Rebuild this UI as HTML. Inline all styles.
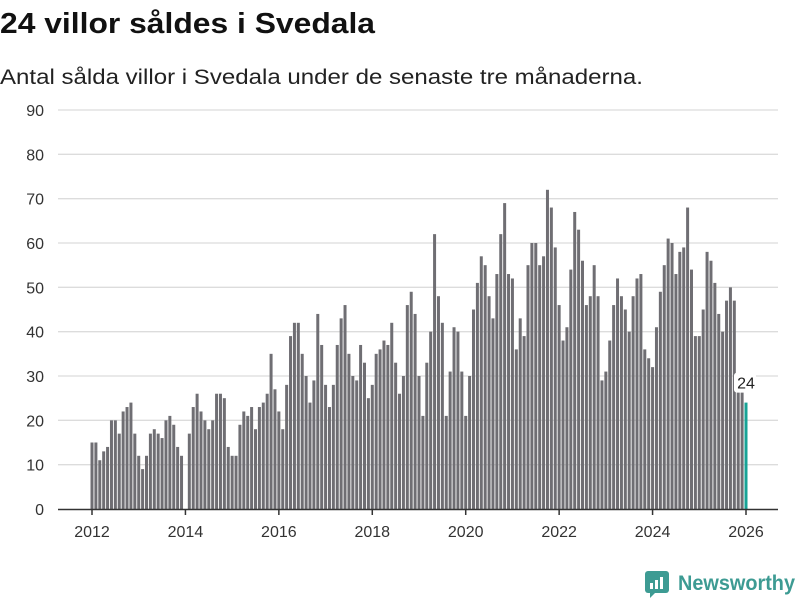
<!DOCTYPE html>
<html><head><meta charset="utf-8"><style>
html,body{margin:0;padding:0;background:#fff;}
svg{display:block;font-family:"Liberation Sans","DejaVu Sans",sans-serif;}
</style></head><body>
<svg id="chart" width="800" height="600" viewBox="0 0 800 600" xmlns="http://www.w3.org/2000/svg">
<text x="0" y="33" font-size="29" font-weight="bold" fill="#111" textLength="375" lengthAdjust="spacingAndGlyphs">24 villor såldes i Svedala</text>
<text x="0" y="84" font-size="21" fill="#222" textLength="643" lengthAdjust="spacingAndGlyphs">Antal sålda villor i Svedala under de senaste tre månaderna.</text>
<g id="grid"></g>
<g id="bars"></g>
<g id="xaxis"></g>
<g>
<rect x="645" y="571" width="24" height="22" rx="3" fill="#3d9b93"/>
<polygon points="650,592 656,592 650,598" fill="#3d9b93"/>
<rect x="650" y="583" width="3" height="6" fill="#fff"/>
<rect x="655" y="580" width="3" height="9" fill="#fff"/>
<rect x="660" y="577" width="3" height="12" fill="#fff"/>
<text x="678" y="590" font-size="21" font-weight="bold" fill="#3d9b93" textLength="117" lengthAdjust="spacingAndGlyphs">Newsworthy</text>
</g>
</svg>
<script>
const startYear = 2012;
const values = [
15,15,11,13,14,20,20,17,22,23,24,17,
12,9,12,17,18,17,16,20,21,19,14,12,
0,17,23,26,22,20,18,20,26,26,25,14,
12,12,19,22,21,23,18,23,24,26,35,27,
22,18,28,39,42,42,35,30,24,29,44,37,
28,23,28,37,43,46,35,30,29,37,33,25,
28,35,36,38,37,42,33,26,30,46,49,44,
30,21,33,40,62,48,42,21,31,41,40,31,
21,30,45,51,57,55,48,43,53,62,69,53,
52,36,43,39,55,60,60,55,57,72,68,59,
46,38,41,54,67,63,56,46,48,55,48,29,
31,38,46,52,48,45,40,48,52,53,36,34,
32,41,49,55,61,60,53,58,59,68,54,39,
39,45,58,56,51,44,40,47,50,47,27,27,
24];
const yTicks = [0,10,20,30,40,50,60,70,80,90];
const xTickYears = [2012,2014,2016,2018,2020,2022,2024,2026];

const NS = "http://www.w3.org/2000/svg";
const y0 = 509, yTop = 110, yMax = 90;
const x0 = 92, perMonth = (746 - 92) / 168;
function yScale(v){ return y0 - (v / yMax) * (y0 - yTop); }
function xScale(i){ return x0 + i * perMonth; }
function mk(tag, attrs, parent){ const e = document.createElementNS(NS, tag); for (const k in attrs) e.setAttribute(k, attrs[k]); parent.appendChild(e); return e; }

const grid = document.getElementById('grid');
yTicks.forEach(t => {
  const y = yScale(t);
  if (t > 0) {
    const l = mk('line', {x1:58, x2:778, y1:y, y2:y, stroke:'#dcdcdc', 'stroke-width':1.3}, grid);
    
    
  }
  const tx = mk('text', {x:44, y:y+6, 'font-size':16, fill:'#333', 'text-anchor':'end'}, grid);
  tx.textContent = t;
  
  
});

const bars = document.getElementById('bars');
values.forEach((v, i) => {
  const last = i === values.length - 1;
  const x = xScale(i);
  const r = mk('rect', {x:x-1.5, y:yScale(v), width:3, height:y0 - yScale(v), fill: last ? '#17a396' : '#6f6e73'}, bars);
  
  
  if (last) {
    const lb = mk('rect', {x:x-12, y:yScale(v)-30, width:22, height:20, rx:3, fill:'#fff'}, bars);
    
    
    const lt = mk('text', {x:x, y:yScale(v)-14, 'font-size':16, fill:'#222', 'text-anchor':'middle'}, bars);
    lt.textContent = v;
    
    
  }
});

const xa = document.getElementById('xaxis');
const base = mk('line', {x1:58, x2:778, y1:y0+0.5, y2:y0+0.5, stroke:'#333', 'stroke-width':1.5}, xa);


xTickYears.forEach(yr => {
  const x = xScale((yr - startYear) * 12);
  const t = mk('line', {x1:x, x2:x, y1:y0, y2:y0+6, stroke:'#333', 'stroke-width':1.5}, xa);
  
  
  const tx = mk('text', {x:x, y:537, 'font-size':16, fill:'#333', 'text-anchor':'middle'}, xa);
  tx.textContent = yr;
  
  
});
</script>
</body></html>
